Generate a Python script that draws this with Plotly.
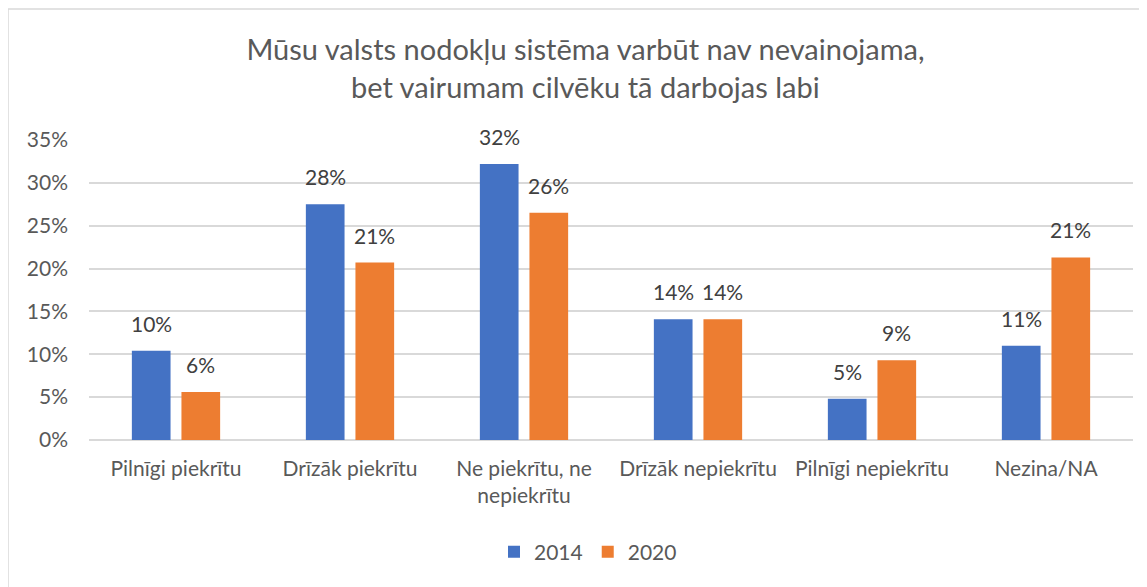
import plotly.graph_objects as go

categories = ["Pilnīgi piekrītu", "Drīzāk piekrītu", "Ne piekrītu, ne<br>nepiekrītu",
              "Drīzāk nepiekrītu", "Pilnīgi nepiekrītu", "Nezina/NA"]
values_2014 = [0.104, 0.275, 0.322, 0.141, 0.048, 0.110]
values_2020 = [0.056, 0.207, 0.265, 0.141, 0.093, 0.213]
series_names = ["2014", "2020"]
title_line1 = "Mūsu valsts nodokļu sistēma varbūt nav nevainojama,"
title_line2 = "bet vairumam cilvēku tā darbojas labi"

BLUE = "#4472C4"
ORANGE = "#ED7D31"
TXT = "#595959"
GRID = "#D9D9D9"
FONT = "Lato, Carlito, Calibri, sans-serif"

# figure geometry (page body has an 8px margin)
W, H = 1139, 579
ML, MR, MT, MB = 81, 14, 132, 147
PW, PH = W - ML - MR, H - MT - MB

fig = go.Figure()
for name, vals, col in [(series_names[0], values_2014, BLUE), (series_names[1], values_2020, ORANGE)]:
    fig.add_trace(go.Bar(x=categories, y=vals, name=name, marker_color=col,
                         marker_line_width=0, hoverinfo="skip"))

# data labels via annotations anchored on bar tops
offset_px = 24.7
for vals, sh in [(values_2014, -offset_px), (values_2020, offset_px)]:
    for c, v in zip(categories, vals):
        fig.add_annotation(x=c, y=v, xref="x", yref="y", text=f"{round(v*100):.0f}%",
                           showarrow=False, xshift=sh, yshift=13, yanchor="bottom",
                           font=dict(family=FONT, size=21, color="#404040"))

title_x = (577.5 - ML) / PW
fig.add_annotation(xref="paper", yref="paper", x=title_x, y=1.0 + (MT - 79) / PH,
                   text=title_line2, showarrow=False, xanchor="center", yanchor="middle",
                   font=dict(family=FONT, size=29, color=TXT))

fig.add_shape(type="rect", xref="paper", yref="paper",
              x0=(0 - ML) / PW, x1=(W + 20 - ML) / PW,
              y0=1 - (H + 20 - MT) / PH, y1=1 + (MT - 1) / PH,
              line=dict(color=GRID, width=1.5), fillcolor="rgba(0,0,0,0)", layer="below")

fig.update_layout(
    width=W, height=H,
    margin=dict(l=ML, r=MR, t=MT, b=MB),
    paper_bgcolor="white", plot_bgcolor="white",
    title=dict(text=title_line1, x=(ML + title_x * PW) / W, xanchor="center",
               y=1 - 42 / H, yanchor="middle",
               font=dict(family=FONT, size=29, color=TXT)),
    barmode="group", bargap=0.43, bargroupgap=0.22,
    font=dict(family=FONT, size=21, color=TXT),
    legend=dict(orientation="h", x=(580 - ML) / PW, xanchor="center",
                y=-(544 - (MT + PH)) / PH, yanchor="middle",
                font=dict(family=FONT, size=21, color=TXT), itemclick=False,
                traceorder="normal", itemwidth=30),
    showlegend=True,
)
fig.update_xaxes(showline=False, showgrid=False, ticks="", ticklabelstandoff=14,
                 tickfont=dict(family=FONT, size=21, color=TXT), fixedrange=True)
fig.update_yaxes(range=[0, 0.35], dtick=0.05, tickformat=".0%", showgrid=True,
                 gridcolor=GRID, gridwidth=1.5, zeroline=True, zerolinecolor=GRID,
                 zerolinewidth=1.5, ticks="", ticklabelstandoff=20,
                 tickfont=dict(family=FONT, size=21, color=TXT), fixedrange=True)

fig.write_html("out.html", config={"displayModeBar": False})
